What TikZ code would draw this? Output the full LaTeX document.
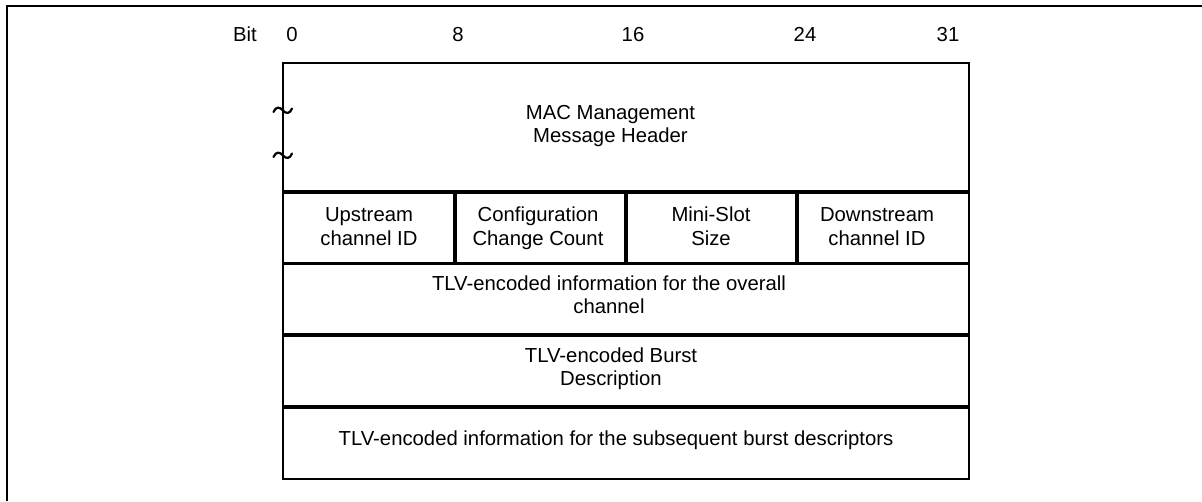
\documentclass[tikz,border=0pt]{standalone}
\usepackage{fontspec}
\setmainfont{Liberation Sans}
\newcommand{\mytwo}[2]{\begin{tabular}[t]{@{}c@{}}#1\\#2\end{tabular}}
\begin{document}
\begin{tikzpicture}[x=1pt,y=-1pt,
  lbl/.style={anchor=base, inner sep=0pt, font=\fontsize{20.3}{23.5}\selectfont},
  framestyle/.style={line width=2pt},
  boxline/.style={line width=2pt},
  divider/.style={line width=3.5pt},
  hdrdivider/.style={line width=4pt},
  tildestyle/.style={line width=2.2pt, line cap=round}]
\useasboundingbox (0,0) rectangle (1202,501);
% outer frame (top and left visible)
\draw[framestyle] (6.8,501) -- (6.8,6) -- (1202,6);

% bit labels
\node[lbl] (bit) at (245,41.7) {Bit};
\node[lbl] (b0) at (292,41.7) {0};
\node[lbl] (b8) at (458,41.7) {8};
\node[lbl] (b16) at (633,41.7) {16};
\node[lbl] (b24) at (805,41.7) {24};
\node[lbl] (b31) at (948,41.7) {31};

% main box and dividers
\draw[boxline] (283,63) rectangle (969,479);
\draw[hdrdivider] (283,192) -- (969,192);
\draw[divider] (283,263.5) -- (969,263.5);
\draw[divider] (283,335) -- (969,335);
\draw[divider] (283,407) -- (969,407);
\draw[divider] (455,192) -- (455,263.5);
\draw[divider] (626,192) -- (626,263.5);
\draw[divider] (797,192) -- (797,263.5);

% break marks on left edge
\draw[tildestyle, shift={(283,110)}] (-9.5,2) .. controls (-7,-4) and (-3,-3) .. (0,0.5) .. controls (3,4) and (7,4) .. (9,-1.5);
\draw[tildestyle, shift={(283,155)}] (-9.5,2) .. controls (-7,-4) and (-3,-3) .. (0,0.5) .. controls (3,4) and (7,4) .. (9,-1.5);

% texts
\node[lbl] (hdr) at (610.5,119.3) {\mytwo{MAC Management}{Message Header}};
\node[lbl] (usid) at (369,221.7) {\mytwo{Upstream}{channel ID}};
\node[lbl] (ccc) at (538,221.7) {\mytwo{Configuration}{Change Count}};
\node[lbl] (mss) at (711,221.7) {\mytwo{Mini-Slot}{Size}};
\node[lbl] (dsid) at (877,221.7) {\mytwo{Downstream}{channel ID}};
\node[lbl] (tlvch) at (609,290) {\mytwo{TLV-encoded information for the overall}{channel}};
\node[lbl] (tlvbd) at (611,362) {\mytwo{TLV-encoded Burst}{Description}};
\node[lbl] (tlvsub) at (616,445.7) {TLV-encoded information for the subsequent burst descriptors};
\end{tikzpicture}
\end{document}
